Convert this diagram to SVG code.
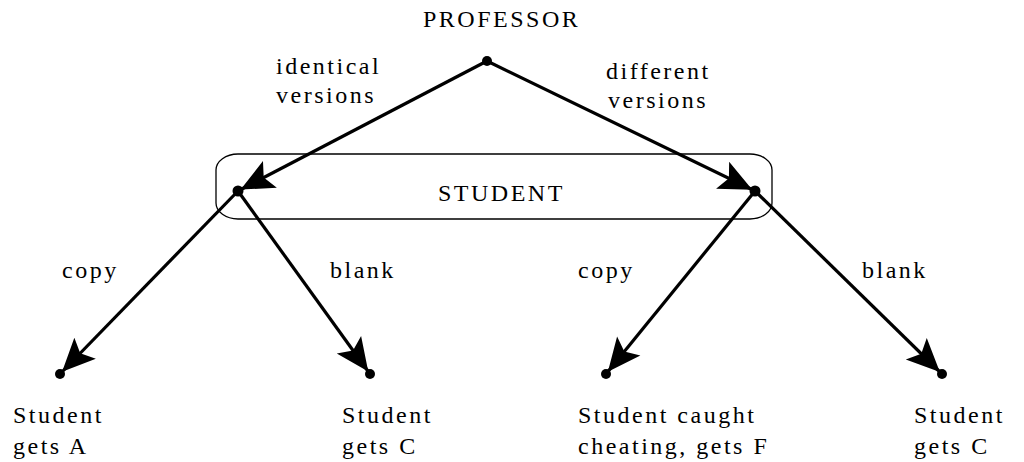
<svg xmlns="http://www.w3.org/2000/svg" width="1024" height="462" viewBox="0 0 1024 462">
  <style>
    text { font-family: 'Liberation Serif', 'DejaVu Serif', serif; font-size: 24px; letter-spacing: 2.5px; fill: #000; }
    .edge { stroke: #000; stroke-width: 3.2; fill: none; marker-end: url(#arrow); }
    .dot { fill: #000; }
    .group { fill: none; stroke: #000; stroke-width: 1.3; }
  </style>
  <defs>
    <marker id="arrow" markerUnits="userSpaceOnUse" viewBox="-45 -22 45 44" markerWidth="45" markerHeight="44" refX="0" refY="0" orient="auto" overflow="visible">
      <path d="M-3,0 L-36,-15 L-29,0 L-36,15 Z" fill="#000"/>
    </marker>
  </defs>
  <rect width="1024" height="462" fill="#fff"/>

  <g id="student-group">
    <rect class="group" x="216" y="154" width="556" height="65" rx="22" ry="16"/>
    <text x="438" y="201">STUDENT</text>
  </g>

  <g id="connectors">
    <line class="edge" x1="487" y1="61" x2="238" y2="191"/>
    <line class="edge" x1="487" y1="61" x2="755" y2="191"/>
    <line class="edge" x1="238" y1="191" x2="60" y2="374"/>
    <line class="edge" x1="238" y1="191" x2="370" y2="374"/>
    <line class="edge" x1="755" y1="191" x2="606" y2="374"/>
    <line class="edge" x1="755" y1="191" x2="942" y2="374"/>
    <text x="276" y="74">identical</text>
    <text x="276" y="103">versions</text>
    <text x="606" y="79">different</text>
    <text x="608" y="108">versions</text>
    <text x="62" y="278">copy</text>
    <text x="330" y="278">blank</text>
    <text x="578" y="278">copy</text>
    <text x="862" y="278">blank</text>
  </g>

  <g id="professor">
    <circle class="dot" cx="487" cy="61" r="5"/>
    <text x="423" y="27">PROFESSOR</text>
  </g>
  <g id="student-left">
    <circle class="dot" cx="238" cy="191" r="5.5"/>
  </g>
  <g id="student-right">
    <circle class="dot" cx="755" cy="191" r="5.5"/>
  </g>
  <g id="leaf-a">
    <circle class="dot" cx="60" cy="374" r="5"/>
    <text x="13" y="423">Student</text>
    <text x="13" y="454">gets A</text>
  </g>
  <g id="leaf-c1">
    <circle class="dot" cx="370" cy="374" r="5"/>
    <text x="342" y="423">Student</text>
    <text x="342" y="454">gets C</text>
  </g>
  <g id="leaf-f">
    <circle class="dot" cx="606" cy="374" r="5"/>
    <text x="578" y="423">Student caught</text>
    <text x="578" y="454">cheating, gets F</text>
  </g>
  <g id="leaf-c2">
    <circle class="dot" cx="942" cy="374" r="5"/>
    <text x="914" y="423">Student</text>
    <text x="914" y="454">gets C</text>
  </g>
</svg>
